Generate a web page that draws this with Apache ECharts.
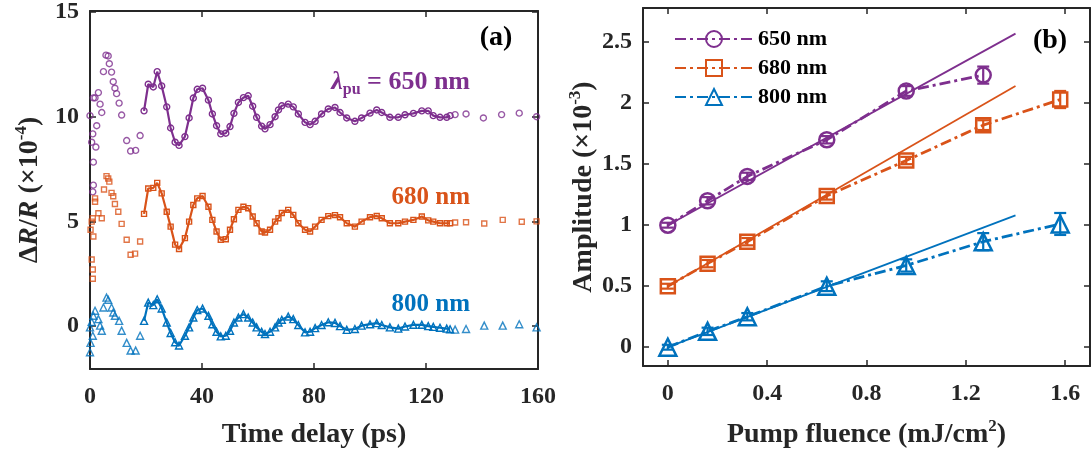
<!DOCTYPE html>
<html><head><meta charset="utf-8">
<script src="https://cdn.jsdelivr.net/npm/echarts@6/dist/echarts.min.js"></script>
<style>html,body{margin:0;padding:0;background:#fff}#c{width:1092px;height:454px}</style>
</head><body><div id="c"></div>
<script>
// ---------- Panel (a): time traces ----------
const timeFit = [19.3, 20.8, 22.6, 24.0, 25.6, 27.4, 28.8, 30.4, 31.8, 33.9, 35.4, 36.9, 38.3, 40.2, 42.3, 43.7, 45.2, 46.7, 48.5, 50.0, 51.4, 53.0, 54.8, 56.5, 58.1, 59.5, 61.3, 62.5, 64.3, 66.1, 67.3, 68.5, 70.8, 72.6, 74.4, 76.8, 78.6, 80.4, 82.7, 85.1, 87.5, 89.3, 91.7, 94.6, 97.0, 100.0, 102.4, 104.2, 107.1, 110.1, 112.5, 115.5, 118.5, 120.8, 122.6, 125.0, 127.4, 128.6];
const fit650 = [10.28, 11.55, 11.42, 12.15, 11.47, 10.47, 9.46, 8.78, 8.63, 9.05, 9.94, 10.89, 11.31, 11.36, 10.79, 10.13, 9.57, 9.18, 9.21, 9.53, 10.16, 10.68, 10.91, 11.0, 10.5, 9.97, 9.55, 9.42, 9.62, 10.0, 10.32, 10.52, 10.6, 10.47, 10.13, 9.73, 9.62, 9.78, 10.13, 10.37, 10.44, 10.2, 9.94, 9.78, 9.94, 10.17, 10.32, 10.2, 9.97, 9.97, 10.09, 10.16, 10.28, 10.28, 10.05, 9.97, 9.97, 10.05];
const fit680 = [5.36, 6.57, 6.6, 6.84, 6.34, 5.46, 4.75, 3.89, 3.68, 4.2, 4.99, 5.78, 6.1, 6.21, 5.7, 5.07, 4.52, 4.12, 4.15, 4.6, 5.1, 5.55, 5.7, 5.63, 5.23, 4.91, 4.52, 4.47, 4.6, 4.99, 5.15, 5.4, 5.55, 5.31, 4.91, 4.6, 4.52, 4.75, 5.07, 5.25, 5.3, 5.2, 4.91, 4.75, 4.99, 5.2, 5.26, 5.15, 4.91, 4.91, 4.99, 5.07, 5.23, 5.05, 4.99, 4.91, 4.91, 4.91];
const fit800 = [0.25, 1.12, 1.0, 1.28, 0.84, 0.17, -0.33, -0.77, -0.93, -0.46, -0.06, 0.41, 0.77, 0.84, 0.49, 0.09, -0.27, -0.49, -0.46, -0.22, 0.17, 0.41, 0.57, 0.41, 0.17, -0.06, -0.27, -0.38, -0.27, -0.06, 0.17, 0.3, 0.46, 0.33, 0.05, -0.3, -0.27, -0.1, 0.05, 0.18, 0.15, 0.0, -0.18, -0.14, 0.02, 0.09, 0.14, 0.05, -0.06, -0.12, -0.02, 0.06, 0.06, 0.0, -0.04, -0.08, -0.12, -0.15];

const t650o = [0.0, 0.6, 1.0, 1.0, 1.2, 1.2, 1.2, 1.8, 2.1, 2.4, 3.0, 3.6, 4.2, 4.8, 5.7, 6.5, 6.9, 7.7, 8.3, 8.9, 9.5, 10.4, 11.3, 13.1, 14.5, 16.3, 17.9, 130.4, 134.3, 140.5, 147.0, 153.3, 159.5];
const v650o = [10.05, 8.78, 9.18, 6.41, 7.83, 6.73, 10.9, 10.9, 8.55, 9.57, 11.15, 10.6, 10.2, 12.15, 12.94, 12.9, 12.53, 12.13, 11.67, 11.36, 11.1, 10.65, 10.08, 8.86, 8.36, 8.39, 9.1, 10.1, 10.13, 9.94, 10.1, 10.17, 10.0];
const t680o = [0.2, 0.6, 0.6, 1.0, 1.0, 1.0, 1.2, 1.8, 1.8, 3.0, 4.2, 5.0, 5.9, 6.5, 6.9, 7.7, 8.3, 8.9, 10.1, 11.3, 13.1, 14.5, 16.1, 17.9, 130.4, 134.3, 140.8, 147.4, 154.2, 159.5];
const v680o = [4.6, 4.99, 3.18, 5.15, 2.7, 2.26, 4.28, 5.94, 6.1, 5.39, 5.15, 6.52, 7.16, 7.05, 6.9, 6.36, 6.2, 5.83, 5.46, 4.88, 4.12, 3.41, 3.46, 4.04, 4.95, 4.96, 4.9, 5.07, 4.98, 5.0];
const t800o = [0.0, 0.2, 0.6, 1.0, 0.0, 1.2, 1.8, 3.0, 3.6, 4.2, 4.8, 5.9, 6.5, 7.7, 8.3, 8.9, 10.4, 11.3, 13.1, 14.5, 16.3, 17.9, 130.4, 134.3, 140.8, 147.4, 153.3, 159.5];
const v800o = [-1.25, -0.8, 0.2, -0.46, -0.06, 0.49, 0.73, 0.33, 0.02, -0.22, 0.89, 1.36, 1.26, 0.89, 0.65, 0.49, 0.25, -0.22, -0.8, -1.17, -1.17, -0.46, -0.17, -0.14, 0.02, 0.02, 0.09, -0.06];

const ticksA_x = [0, 40, 80, 120, 160];
const ticksA_y = [0, 5, 10, 15];

// ---------- Panel (b): amplitude vs fluence ----------
const fluence = [0, 0.16, 0.32, 0.64, 0.96, 1.27, 1.58];
const amp650 = [1.0, 1.2, 1.4, 1.7, 2.1, 2.23];
const amp680 = [0.5, 0.685, 0.865, 1.24, 1.53, 1.82, 2.03];
const amp800 = [0.0, 0.13, 0.25, 0.5, 0.67, 0.865, 1.01];
const err650 = [0.02, 0.03, 0.03, 0.03, 0.04, 0.07];
const err680 = [0.02, 0.03, 0.03, 0.03, 0.03, 0.04, 0.07];
const err800 = [0.02, 0.03, 0.03, 0.04, 0.05, 0.07, 0.09];
const fitX = [0, 1.4];
const lin650 = [1.0, 2.57];
const lin680 = [0.5, 2.14];
const lin800 = [0.0, 1.08];
const ticksB_x = [0, 0.4, 0.8, 1.2, 1.6];
const ticksB_y = [0, 0.5, 1, 1.5, 2, 2.5];

// ---------- styling ----------
const FONT = '"Liberation Serif","Times New Roman",serif';
const C650 = '#7E2F8E', C680 = '#D95319', C800 = '#0072BD', AX = '#262626';
const pairs = (t, v) => v.map((y, i) => [t[i], y]);
const tickLabel = {fontFamily: FONT, fontWeight: 'bold', fontSize: 24, color: AX};
const axLine = {show: true, onZero: false, lineStyle: {color: AX, width: 2}};
const axTick = (vals) => ({show: true, inside: true, length: 6, customValues: vals, lineStyle: {color: AX, width: 1.5}});
const nameStyle = {fontFamily: FONT, fontWeight: 'bold', fontSize: 28, color: AX,
  rich: {
    n: {fontFamily: FONT, fontWeight: 'bold', fontSize: 28, color: AX},
    i: {fontFamily: FONT, fontWeight: 'bold', fontStyle: 'italic', fontSize: 28, color: AX},
    sup: {fontFamily: FONT, fontWeight: 'bold', fontSize: 17, color: AX, verticalAlign: 'top', lineHeight: 34}
  }};

function xAx(grid, min, max, vals, name, pos) {
  const a = {type: 'value', gridIndex: grid, min, max, position: pos,
    axisLine: axLine, axisTick: axTick(vals), splitLine: {show: false},
    axisLabel: {show: pos === 'bottom', customValues: vals, margin: 16, ...tickLabel}};
  if (name) { a.name = name; a.nameLocation = 'middle'; a.nameGap = 52; a.nameTextStyle = nameStyle; }
  return a;
}
function yAx(grid, min, max, vals, name, pos, gap) {
  const a = {type: 'value', gridIndex: grid, min, max, position: pos,
    axisLine: axLine, axisTick: axTick(vals), splitLine: {show: false},
    axisLabel: {show: pos === 'left', customValues: vals, margin: 11, ...tickLabel}};
  if (name) { a.name = name; a.nameLocation = 'middle'; a.nameGap = gap; a.nameTextStyle = nameStyle; }
  return a;
}

const hollow = (c, w) => ({color: 'rgba(0,0,0,0)', borderColor: c, borderWidth: w});

function fitTrace(vals, color, symbol, size) {
  return {type: 'line', xAxisIndex: 0, yAxisIndex: 0, data: pairs(timeFit, vals),
    symbol, symbolSize: size, showSymbol: true, lineStyle: {color, width: 2.2}, itemStyle: hollow(color, 1.4), z: 3};
}
function dots(t, v, color, symbol, size) {
  return {type: 'scatter', xAxisIndex: 0, yAxisIndex: 0, data: pairs(t, v),
    symbol, symbolSize: size, itemStyle: hollow(color, 1.4), z: 3};
}
function measured(name, amp, color, symbol, size) {
  return {name, type: 'line', xAxisIndex: 2, yAxisIndex: 2, data: pairs(fluence, amp),
    symbol, symbolSize: size, showSymbol: true,
    lineStyle: {color, width: 2.8, type: [11, 4, 3, 4]}, itemStyle: hollow(color, 2.5), z: 4};
}
function linFit(vals, color) {
  return {type: 'line', xAxisIndex: 2, yAxisIndex: 2, data: pairs(fitX, vals), showSymbol: false,
    symbol: 'none', lineStyle: {color, width: 1.8}, z: 2, silent: true};
}
function errBars(amp, err, color) {
  return {type: 'custom', xAxisIndex: 2, yAxisIndex: 2, z: 5,
    data: amp.map((v, i) => [fluence[i], v - err[i], v + err[i]]),
    renderItem(params, api) {
      const lo = api.coord([api.value(0), api.value(1)]);
      const hi = api.coord([api.value(0), api.value(2)]);
      const w = 6, st = {stroke: color, lineWidth: 2.2};
      return {type: 'group', children: [
        {type: 'line', shape: {x1: lo[0], y1: lo[1], x2: hi[0], y2: hi[1]}, style: st},
        {type: 'line', shape: {x1: lo[0] - w, y1: lo[1], x2: lo[0] + w, y2: lo[1]}, style: st},
        {type: 'line', shape: {x1: hi[0] - w, y1: hi[1], x2: hi[0] + w, y2: hi[1]}, style: st}
      ]};
    }};
}

const labelFont = (c, size) => ({fontFamily: FONT, fontWeight: 'bold', fontSize: size, fill: c, color: c});

const option = {
  animation: false,
  backgroundColor: '#fff',
  grid: [
    {left: 90, top: 8, width: 448, height: 362},
    {left: 643, top: 8, width: 447, height: 362}
  ],
  xAxis: [
    xAx(0, 0, 160, ticksA_x, 'Time delay (ps)', 'bottom'),
    xAx(0, 0, 160, ticksA_x, null, 'top'),
    xAx(1, -0.1, 1.7, ticksB_x, '{n|Pump fluence (mJ/cm}{sup|2}{n|)}', 'bottom'),
    xAx(1, -0.1, 1.7, ticksB_x, null, 'top')
  ],
  yAxis: [
    yAx(0, -2.05, 15.05, ticksA_y, '{n|Δ}{i|R}{n|/}{i|R}{n| (×10}{sup|-4}{n|)}', 'left', 43),
    yAx(0, -2.05, 15.05, ticksA_y, null, 'right'),
    yAx(1, -0.154, 2.78, ticksB_y, '{n|Amplitude (×10}{sup|-3}{n|)}', 'left', 40),
    yAx(1, -0.154, 2.78, ticksB_y, null, 'right')
  ],
  legend: {
    data: ['650 nm', '680 nm', '800 nm'], orient: 'vertical', left: 674, top: 28,
    itemWidth: 78, itemHeight: 20, itemGap: 7, selectedMode: false, padding: 0,
    textStyle: {fontFamily: FONT, fontWeight: 'bold', fontSize: 22, color: '#000'}
  },
  graphic: [
    {type: 'text', x: 496, y: 38, style: {text: '(a)', ...labelFont('#000', 28), align: 'center', verticalAlign: 'middle'}},
    {type: 'text', x: 1050, y: 41, style: {text: '(b)', ...labelFont('#000', 28), align: 'center', verticalAlign: 'middle'}},
    {type: 'text', x: 470, y: 82, style: {
      text: '{l|λ}{s|pu}{n| = 650 nm}', align: 'right', verticalAlign: 'middle',
      rich: {
        l: {...labelFont(C650, 26), fontStyle: 'italic', lineHeight: 32},
        s: {...labelFont(C650, 16), verticalAlign: 'bottom', lineHeight: 32},
        n: {...labelFont(C650, 26), lineHeight: 32}
      }}},
    {type: 'text', x: 470, y: 198, style: {text: '680 nm', ...labelFont(C680, 25), align: 'right', verticalAlign: 'middle'}},
    {type: 'text', x: 470, y: 305, style: {text: '800 nm', ...labelFont(C800, 25), align: 'right', verticalAlign: 'middle'}}
  ],
  series: [
    fitTrace(fit650, C650, 'circle', 6),
    fitTrace(fit680, C680, 'rect', 5),
    fitTrace(fit800, C800, 'triangle', 7),
    dots(t650o, v650o, C650, 'circle', 6),
    dots(t680o, v680o, C680, 'rect', 5),
    dots(t800o, v800o, C800, 'triangle', 7),
    linFit(lin650, C650),
    linFit(lin680, C680),
    linFit(lin800, C800),
    measured('650 nm', amp650, C650, 'circle', 15),
    measured('680 nm', amp680, C680, 'rect', 14),
    measured('800 nm', amp800, C800, 'triangle', 17),
    errBars(amp650, err650, C650),
    errBars(amp680, err680, C680),
    errBars(amp800, err800, C800)
  ]
};
const chart = echarts.init(document.getElementById('c'), null, {renderer: 'canvas'});
chart.setOption(option);
</script>
</body></html>
